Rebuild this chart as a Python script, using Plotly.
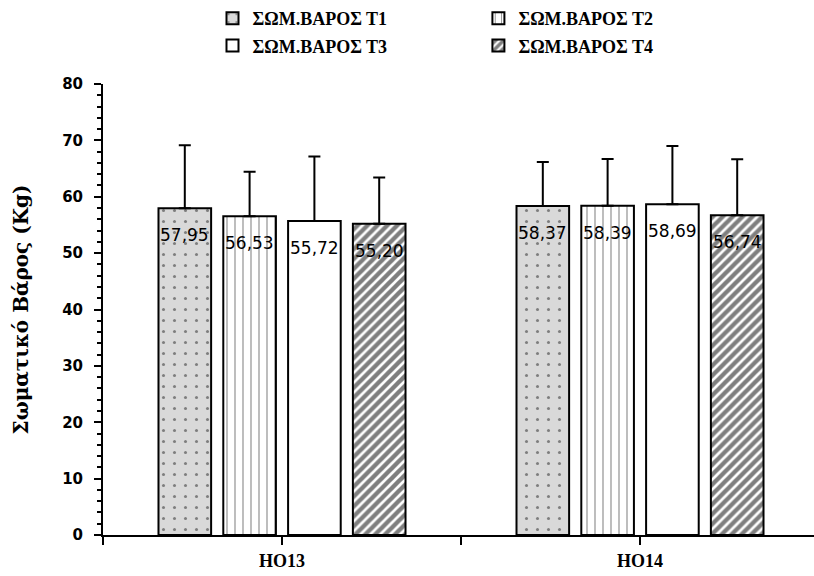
import plotly.graph_objects as go

# Body weight (kg) by group and measurement time
groups = ["HO13", "HO14"]
series_names = ["ΣΩΜ.ΒΑΡΟΣ Τ1", "ΣΩΜ.ΒΑΡΟΣ Τ2", "ΣΩΜ.ΒΑΡΟΣ Τ3", "ΣΩΜ.ΒΑΡΟΣ Τ4"]
means_t1 = [57.95, 58.37]
means_t2 = [56.53, 58.39]
means_t3 = [55.72, 58.69]
means_t4 = [55.20, 56.74]
sd_t1 = [11.2, 7.8]
sd_t2 = [7.9, 8.3]
sd_t3 = [11.4, 10.3]
sd_t4 = [8.2, 9.9]
y_ticks = [0, 10, 20, 30, 40, 50, 60, 70, 80]

means = [means_t1, means_t2, means_t3, means_t4]
sds = [sd_t1, sd_t2, sd_t3, sd_t4]

# bar geometry in category units
BAR_W = 0.147
PITCH = 0.181

patterns = [
    dict(shape=".", fgcolor="#222222", bgcolor="#d9d9d9", size=11, solidity=0.06),
    dict(shape="|", fgcolor="#222222", bgcolor="#ffffff", size=8, solidity=0.15),
    dict(shape="", fgcolor="#ffffff", bgcolor="#ffffff"),
    dict(shape="/", fgcolor="#000000", bgcolor="#ffffff", size=7, solidity=0.62),
]
# one legend box per entry, laid out as a 2x2 grid (paper coords)
legend_ids = ["legend", "legend2", "legend3", "legend4"]
legend_x = [0.154, 0.528, 0.154, 0.528]
legend_y = [1.185, 1.185, 1.123, 1.123]

fig = go.Figure()
annotations = []
for i, (name, vals, sd, pat) in enumerate(zip(series_names, means, sds, patterns)):
    xs = [g + (i - 1.5) * PITCH for g in range(len(groups))]
    fig.add_trace(go.Bar(
        x=xs, y=vals, width=BAR_W, name=name, legend=legend_ids[i],
        marker=dict(color=pat["bgcolor"], pattern=pat,
                    line=dict(color="black", width=2)),
        error_y=dict(type="data", symmetric=False, array=sd,
                     arrayminus=[0] * len(sd), color="black",
                     thickness=2, width=6),
    ))
    for x, v in zip(xs, vals):
        annotations.append(dict(
            x=x, y=v, xref="x", yref="y", yshift=-27, showarrow=False,
            text=f"{v:.2f}".replace(".", ","),
            font=dict(family="DejaVu Sans", size=17, color="#000000"),
        ))

legend_style = dict(
    orientation="h", xanchor="left", yanchor="top",
    font=dict(family="Liberation Serif", size=18, color="black", weight="bold"),
    bgcolor="rgba(0,0,0,0)", itemwidth=30,
)

legends = {
    lid: dict(legend_style, x=lx, y=ly)
    for lid, lx, ly in zip(legend_ids, legend_x, legend_y)
}

fig.update_layout(
    width=814, height=576,
    margin=dict(l=103, r=0, t=83, b=41),
    paper_bgcolor="white", plot_bgcolor="white",
    showlegend=True,
    annotations=annotations,
    **legends,
)

fig.update_xaxes(
    range=[-0.5, 1.486], showgrid=False, zeroline=False,
    showline=True, linecolor="black", linewidth=2,
    tickmode="array", tickvals=[-0.5, 0, 0.5, 1, 1.5],
    ticktext=["", groups[0], "", groups[1], ""],
    ticks="outside", ticklen=8, tickwidth=2, tickcolor="black",
    tickfont=dict(family="Liberation Serif", size=18, color="black", weight="bold"),
)

fig.update_yaxes(
    range=[0, 80], showgrid=False, zeroline=False,
    showline=True, linecolor="black", linewidth=2,
    tickmode="array", tickvals=y_ticks,
    ticks="outside", ticklen=7, tickwidth=2, tickcolor="black",
    ticklabelstandoff=8,
    minor=dict(dtick=2, ticks="outside", ticklen=4, tickwidth=1.5, tickcolor="black"),
    tickfont=dict(family="DejaVu Sans", size=15, color="black", weight="bold"),
    title=dict(text="Σωματικό Βάρος (Kg)", standoff=28,
               font=dict(family="DejaVu Serif", size=20, color="black", weight="bold")),
)

fig.write_html("out.html")
